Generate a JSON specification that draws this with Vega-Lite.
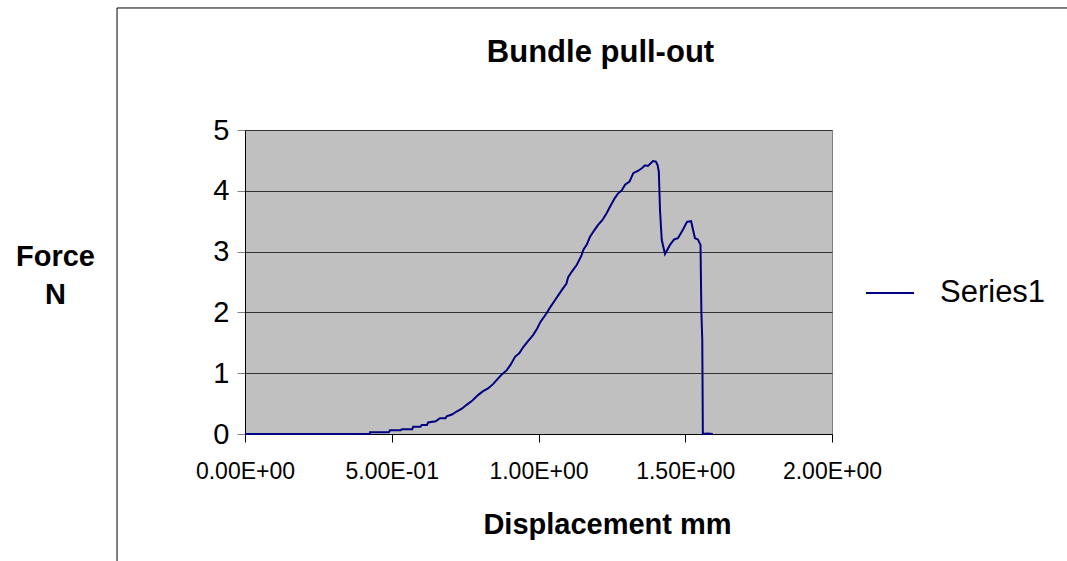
{
  "$schema": "https://vega.github.io/schema/vega-lite/v6.json",
  "width": 587,
  "height": 304,
  "autosize": {"type": "none"},
  "padding": {"left": 245, "top": 130, "right": 235, "bottom": 127},
  "background": "white",
  "config": {
    "font": "Liberation Sans",
    "view": {"fill": "#C0C0C0", "stroke": "#808080", "strokeWidth": 1}
  },
  "title": {
    "text": "Bundle pull-out",
    "anchor": "middle",
    "frame": "group",
    "dx": 62,
    "offset": -86,
    "baseline": "alphabetic",
    "fontSize": 31,
    "fontWeight": "bold",
    "font": "Liberation Sans",
    "color": "#000000"
  },
  "data": {
    "values": [
      {"disp": 0, "force": 0, "series": "Series1"},
      {"disp": 0.425, "force": 0, "series": "Series1"},
      {"disp": 0.426, "force": 0.03, "series": "Series1"},
      {"disp": 0.49, "force": 0.03, "series": "Series1"},
      {"disp": 0.494, "force": 0.06, "series": "Series1"},
      {"disp": 0.53, "force": 0.06, "series": "Series1"},
      {"disp": 0.535, "force": 0.08, "series": "Series1"},
      {"disp": 0.57, "force": 0.08, "series": "Series1"},
      {"disp": 0.573, "force": 0.12, "series": "Series1"},
      {"disp": 0.598, "force": 0.12, "series": "Series1"},
      {"disp": 0.602, "force": 0.15, "series": "Series1"},
      {"disp": 0.62, "force": 0.15, "series": "Series1"},
      {"disp": 0.624, "force": 0.19, "series": "Series1"},
      {"disp": 0.65, "force": 0.21, "series": "Series1"},
      {"disp": 0.664, "force": 0.26, "series": "Series1"},
      {"disp": 0.683, "force": 0.26, "series": "Series1"},
      {"disp": 0.687, "force": 0.29, "series": "Series1"},
      {"disp": 0.705, "force": 0.32, "series": "Series1"},
      {"disp": 0.721, "force": 0.37, "series": "Series1"},
      {"disp": 0.74, "force": 0.42, "series": "Series1"},
      {"disp": 0.755, "force": 0.48, "series": "Series1"},
      {"disp": 0.775, "force": 0.55, "series": "Series1"},
      {"disp": 0.794, "force": 0.64, "series": "Series1"},
      {"disp": 0.81, "force": 0.7, "series": "Series1"},
      {"disp": 0.828, "force": 0.75, "series": "Series1"},
      {"disp": 0.845, "force": 0.82, "series": "Series1"},
      {"disp": 0.858, "force": 0.89, "series": "Series1"},
      {"disp": 0.875, "force": 0.98, "series": "Series1"},
      {"disp": 0.892, "force": 1.05, "series": "Series1"},
      {"disp": 0.905, "force": 1.14, "series": "Series1"},
      {"disp": 0.92, "force": 1.27, "series": "Series1"},
      {"disp": 0.935, "force": 1.33, "series": "Series1"},
      {"disp": 0.948, "force": 1.43, "series": "Series1"},
      {"disp": 0.965, "force": 1.53, "series": "Series1"},
      {"disp": 0.982, "force": 1.63, "series": "Series1"},
      {"disp": 0.995, "force": 1.73, "series": "Series1"},
      {"disp": 1.005, "force": 1.83, "series": "Series1"},
      {"disp": 1.028, "force": 1.99, "series": "Series1"},
      {"disp": 1.042, "force": 2.1, "series": "Series1"},
      {"disp": 1.056, "force": 2.2, "series": "Series1"},
      {"disp": 1.07, "force": 2.3, "series": "Series1"},
      {"disp": 1.084, "force": 2.4, "series": "Series1"},
      {"disp": 1.095, "force": 2.47, "series": "Series1"},
      {"disp": 1.101, "force": 2.58, "series": "Series1"},
      {"disp": 1.115, "force": 2.68, "series": "Series1"},
      {"disp": 1.13, "force": 2.78, "series": "Series1"},
      {"disp": 1.145, "force": 2.92, "series": "Series1"},
      {"disp": 1.153, "force": 3.03, "series": "Series1"},
      {"disp": 1.165, "force": 3.12, "series": "Series1"},
      {"disp": 1.175, "force": 3.24, "series": "Series1"},
      {"disp": 1.19, "force": 3.35, "series": "Series1"},
      {"disp": 1.203, "force": 3.44, "series": "Series1"},
      {"disp": 1.218, "force": 3.52, "series": "Series1"},
      {"disp": 1.232, "force": 3.63, "series": "Series1"},
      {"disp": 1.245, "force": 3.75, "series": "Series1"},
      {"disp": 1.26, "force": 3.88, "series": "Series1"},
      {"disp": 1.27, "force": 3.95, "series": "Series1"},
      {"disp": 1.284, "force": 4.01, "series": "Series1"},
      {"disp": 1.295, "force": 4.1, "series": "Series1"},
      {"disp": 1.31, "force": 4.15, "series": "Series1"},
      {"disp": 1.323, "force": 4.29, "series": "Series1"},
      {"disp": 1.34, "force": 4.33, "series": "Series1"},
      {"disp": 1.352, "force": 4.37, "series": "Series1"},
      {"disp": 1.363, "force": 4.42, "series": "Series1"},
      {"disp": 1.373, "force": 4.41, "series": "Series1"},
      {"disp": 1.39, "force": 4.49, "series": "Series1"},
      {"disp": 1.4, "force": 4.48, "series": "Series1"},
      {"disp": 1.406, "force": 4.42, "series": "Series1"},
      {"disp": 1.41, "force": 4.31, "series": "Series1"},
      {"disp": 1.412, "force": 4.0, "series": "Series1"},
      {"disp": 1.414, "force": 3.68, "series": "Series1"},
      {"disp": 1.42, "force": 3.19, "series": "Series1"},
      {"disp": 1.431, "force": 2.96, "series": "Series1"},
      {"disp": 1.448, "force": 3.11, "series": "Series1"},
      {"disp": 1.462, "force": 3.2, "series": "Series1"},
      {"disp": 1.475, "force": 3.22, "series": "Series1"},
      {"disp": 1.492, "force": 3.36, "series": "Series1"},
      {"disp": 1.506, "force": 3.49, "series": "Series1"},
      {"disp": 1.52, "force": 3.5, "series": "Series1"},
      {"disp": 1.533, "force": 3.22, "series": "Series1"},
      {"disp": 1.543, "force": 3.2, "series": "Series1"},
      {"disp": 1.552, "force": 3.11, "series": "Series1"},
      {"disp": 1.555, "force": 2.0, "series": "Series1"},
      {"disp": 1.558, "force": 1.55, "series": "Series1"},
      {"disp": 1.56, "force": 0, "series": "Series1"},
      {"disp": 1.575, "force": 0.01, "series": "Series1"},
      {"disp": 1.594, "force": 0, "series": "Series1"}
    ]
  },
  "layer": [
    {
      "mark": {"type": "line", "strokeWidth": 2, "interpolate": "linear"},
      "encoding": {
        "x": {
          "field": "disp",
          "type": "quantitative",
          "scale": {"domain": [0, 2], "nice": false, "zero": false},
          "axis": {
            "values": [0, 0.5, 1, 1.5, 2],
            "labelExpr": "datum.value == 0 ? '0.00E+00' : datum.value < 1 ? format(datum.value*10, '.2f') + 'E-01' : format(datum.value, '.2f') + 'E+00'",
            "labelFontSize": 23,
            "labelColor": "#000000",
            "labelPadding": 18,
            "labelFlush": false,
            "labelOverlap": false,
            "tickSize": 8,
            "tickColor": "#000000",
            "domainColor": "#000000",
            "grid": false,
            "title": "Displacement mm",
            "titleFontSize": 29,
            "titleFontWeight": "bold",
            "titleColor": "#000000",
            "titleX": 362,
            "titleY": 99,
            "titleBaseline": "alphabetic",
            "titleAlign": "center"
          }
        },
        "y": {
          "field": "force",
          "type": "quantitative",
          "scale": {"domain": [0, 5], "nice": false},
          "axis": {
            "values": [0, 1, 2, 3, 4, 5],
            "format": "d",
            "labelFontSize": 29,
            "labelColor": "#000000",
            "labelPadding": 8,
            "tickSize": 8,
            "tickColor": "#808080",
            "domainColor": "#000000",
            "grid": true,
            "gridColor": "#333333",
            "gridWidth": 1,
            "title": ["Force", "N"],
            "titleAngle": 0,
            "titleFontSize": 29,
            "titleFontWeight": "bold",
            "titleColor": "#000000",
            "titleLineHeight": 38,
            "titleX": -190,
            "titleY": 135,
            "titleAlign": "center",
            "titleBaseline": "alphabetic"
          }
        },
        "color": {
          "field": "series",
          "type": "nominal",
          "scale": {"range": ["#000080"]},
          "legend": {
            "title": null,
            "orient": "none",
            "legendX": 620,
            "legendY": 138,
            "symbolType": "stroke",
            "symbolSize": 2304,
            "symbolStrokeWidth": 2,
            "labelFontSize": 31,
            "labelColor": "#000000",
            "labelOffset": 25
          }
        }
      }
    },
    {
      "data": {"values": [{}]},
      "mark": {"type": "rule", "color": "#000000", "strokeWidth": 1, "clip": false},
      "encoding": {
        "x": {"datum": -0.436, "type": "quantitative"},
        "y": {"datum": 7.007, "type": "quantitative"},
        "y2": {"datum": -2.2}
      }
    },
    {
      "data": {"values": [{}]},
      "mark": {"type": "rule", "color": "#000000", "strokeWidth": 1, "clip": false},
      "encoding": {
        "x": {"datum": -0.436, "type": "quantitative"},
        "x2": {"datum": 2.9},
        "y": {"datum": 7.007, "type": "quantitative"}
      }
    }
  ]
}
